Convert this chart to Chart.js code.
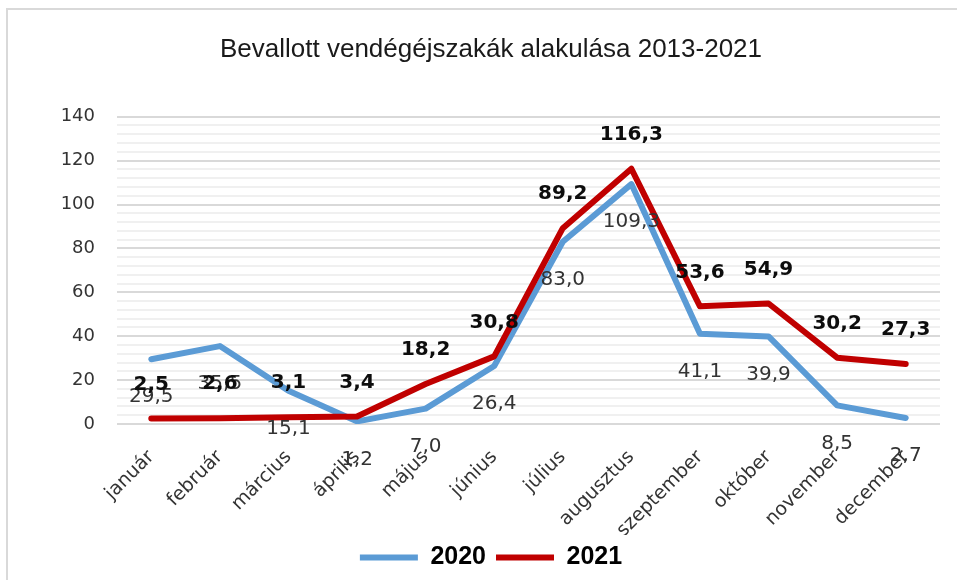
<!DOCTYPE html>
<html>
<head>
<meta charset="utf-8">
<script src="https://cdn.jsdelivr.net/npm/chart.js@4/dist/chart.umd.min.js"></script>
<style>
  html, body { margin: 0; padding: 0; background: #fff; }
  #wrap { position: relative; width: 957px; height: 580px; overflow: hidden; }
  #frame { position: absolute; left: 6px; top: 8px; width: 1000px; height: 600px; border-left: 2px solid #d9d9d9; border-top: 2px solid #d9d9d9; box-sizing: border-box; }
  canvas { position: absolute; left: 0; top: 0; }
</style>
</head>
<body>
<div id="wrap">
  <div id="frame"></div>
  <canvas id="c" width="957" height="580"></canvas>
</div>
<script>
const chartTitle = 'Bevallott vendégéjszakák alakulása 2013-2021';
const months = ['január', 'február', 'március', 'április', 'május', 'június', 'július', 'augusztus', 'szeptember', 'október', 'november', 'december'];
const seriesNames = ['2020', '2021'];
const values2020 = [29.5, 35.5, 15.1, 1.2, 7.0, 26.4, 83.0, 109.3, 41.1, 39.9, 8.5, 2.7];
const values2021 = [2.5, 2.6, 3.1, 3.4, 18.2, 30.8, 89.2, 116.3, 53.6, 54.9, 30.2, 27.3];
const yMin = 0, yMax = 140, yMajorStep = 20, yMinorStep = 4;

const fmt = v => v.toFixed(1).replace('.', ',');

const labelPlugin = {
  id: 'pointLabels',
  afterDatasetsDraw(chart) {
    const ctx = chart.ctx;
    ctx.save();
    ctx.textAlign = 'center';
    ctx.textBaseline = 'middle';
    // 2020: below, regular
    const m0 = chart.getDatasetMeta(0);
    ctx.font = '20px "DejaVu Sans"';
    ctx.fillStyle = '#333333';
    m0.data.forEach((pt, i) => {
      ctx.fillText(fmt(chart.data.datasets[0].data[i]), pt.x, pt.y + 38);
    });
    // 2021: above, bold
    const m1 = chart.getDatasetMeta(1);
    ctx.font = 'bold 20px "DejaVu Sans"';
    ctx.fillStyle = '#0d0d0d';
    m1.data.forEach((pt, i) => {
      ctx.fillText(fmt(chart.data.datasets[1].data[i]), pt.x, pt.y - 34);
    });
    ctx.restore();
  }
};

new Chart(document.getElementById('c'), {
  type: 'line',
  data: {
    labels: months,
    datasets: [
      { label: seriesNames[0], data: values2020, borderColor: '#5B9BD5', backgroundColor: '#5B9BD5', borderWidth: 6, pointRadius: 0, tension: 0, borderCapStyle: 'round', borderJoinStyle: 'round', order: 2 },
      { label: seriesNames[1], data: values2021, borderColor: '#C00000', backgroundColor: '#C00000', borderWidth: 6, pointRadius: 0, tension: 0, borderCapStyle: 'round', borderJoinStyle: 'round', order: 1 }
    ]
  },
  options: {
    responsive: false,
    animation: false,
    events: [],
    layout: { padding: { left: 42, right: 17, top: 0, bottom: 0 } },
    plugins: {
      title: {
        display: true,
        text: chartTitle,
        color: '#1a1a1a',
        font: { family: '"Liberation Sans Narrow", "Liberation Sans"', size: 26, weight: 'normal', lineHeight: 1.2 },
        padding: { top: 34.4, bottom: 51.1 }
      },
      legend: {
        display: true,
        position: 'bottom',
        labels: {
          usePointStyle: true,
          pointStyle: 'line',
          pointStyleWidth: 58,
          boxHeight: 25,
          padding: 10,
          color: '#000',
          font: { family: '"Liberation Sans"', size: 25, weight: 'bold' },
          sort: (a, b) => a.datasetIndex - b.datasetIndex
        }
      },
      tooltip: { enabled: false }
    },
    scales: {
      x: {
        offset: true,
        grid: { display: false, drawTicks: false },
        border: { display: false },
        ticks: {
          autoSkip: false,
          maxRotation: 45,
          minRotation: 45,
          padding: 22,
          color: '#333333',
          font: { family: '"DejaVu Sans"', size: 19 }
        },
        afterFit: s => { s.height = 111; }
      },
      y: {
        min: yMin,
        max: yMax,
        border: { display: false },
        grid: {
          drawTicks: false,
          lineWidth: 2,
          color: c => (c.tick && c.tick.value % yMajorStep === 0) ? '#d9d9d9' : '#f0f0f0'
        },
        ticks: {
          stepSize: yMinorStep,
          autoSkip: false,
          padding: 22,
          color: '#333333',
          font: { family: '"DejaVu Sans"', size: 18 },
          callback: v => (v % yMajorStep === 0 ? String(v) : '')
        },
        afterFit: s => { s.width = 75; }
      }
    }
  },
  plugins: [labelPlugin]
});
</script>
</body>
</html>
